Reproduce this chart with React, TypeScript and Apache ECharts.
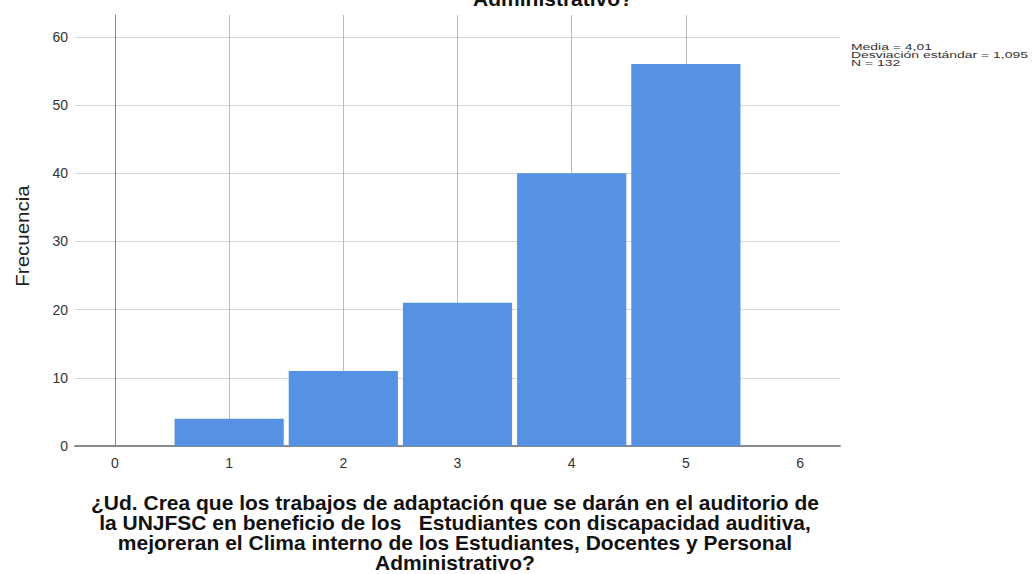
import React, { useEffect, useRef } from "react";
import * as echarts from "echarts";

const categories = [1, 2, 3, 4, 5];
const frequencies = [4, 11, 21, 40, 56];
const xTickValues = [0, 1, 2, 3, 4, 5, 6];
const yAxisTitle = "Frecuencia";
const statsLines = ["Media = 4,01", "Desviación estándar = 1,095", "N = 132"];
const xTitleLines = [
  "¿Ud. Crea que los trabajos de adaptación que se darán en el auditorio de",
  "la UNJFSC en beneficio de los   Estudiantes con discapacidad auditiva,",
  "mejoreran el Clima interno de los Estudiantes, Docentes y Personal",
  "Administrativo?",
];
const topTitleVisibleLine = "Administrativo?";

const FONT = "'Liberation Sans', Arial, sans-serif";
const BAR_COLOR = "#5592E3";

export default function App() {
  const ref = useRef<HTMLDivElement>(null);
  useEffect(() => {
    if (!ref.current) return;
    const chart = echarts.init(ref.current, null, { renderer: "svg" });
    const data = categories.map((c, i) => [c, frequencies[i]]);
    chart.setOption({
      animation: false,
      backgroundColor: "#ffffff",
      grid: { left: 75, right: 195, top: 15, bottom: 128, containLabel: false },
      xAxis: {
        type: "value",
        min: -0.35,
        max: 6.35,
        axisLine: { show: true, lineStyle: { color: "#8a8a8a", width: 2 } },
        axisTick: { show: false, customValues: xTickValues },
        axisLabel: {
          customValues: xTickValues,
          formatter: (v: number) => String(v),
          color: "#333",
          fontFamily: FONT,
          fontSize: 14,
          margin: 10,
        },
        splitLine: {
          show: true,
          showMinLine: false,
          showMaxLine: false,
          lineStyle: { color: "#bcbcbc", width: 1 },
        },
      },
      yAxis: {
        type: "value",
        min: 0,
        max: 63.2,
        interval: 10,
        axisLine: { show: true, lineStyle: { color: "#8a8a8a", width: 1 } },
        axisTick: { show: false },
        axisLabel: {
          color: "#333",
          fontFamily: FONT,
          fontSize: 14,
          margin: 7,
          showMaxLabel: false,
          formatter: (v: number) => (v % 10 === 0 ? String(v) : ""),
        },
        splitLine: {
          show: true,
          showMaxLine: false,
          lineStyle: { color: "#d6d6d6", width: 1 },
        },
      },
      series: [
        {
          type: "custom",
          data,
          renderItem: (params: any, api: any) => {
            const x = api.value(0);
            const y = api.value(1);
            const p0 = api.coord([x - 0.5, y]);
            const p1 = api.coord([x + 0.5, 0]);
            const inset = 2.5;
            return {
              type: "rect",
              shape: {
                x: p0[0] + inset,
                y: p0[1],
                width: p1[0] - p0[0] - inset * 2,
                height: p1[1] - p0[1],
              },
              style: { fill: BAR_COLOR },
            };
          },
        },
      ],
      graphic: [
        {
          type: "text",
          x: 553,
          y: -1,
          scaleX: 1.05,
          style: {
            text: topTitleVisibleLine,
            font: `bold 20px ${FONT}`,
            fill: "#111",
            align: "center",
            verticalAlign: "middle",
          },
        },
        {
          type: "text",
          x: 455,
          y: 493,
          scaleX: 1.05,
          style: {
            text: xTitleLines.join("\n"),
            font: `bold 20px ${FONT}`,
            lineHeight: 20,
            fill: "#111",
            align: "center",
            verticalAlign: "top",
          },
        },
        {
          type: "text",
          x: 22,
          y: 236,
          rotation: Math.PI / 2,
          scaleX: 1.08,
          style: {
            text: yAxisTitle,
            font: `19px ${FONT}`,
            fill: "#222",
            align: "center",
            verticalAlign: "middle",
          },
        },
        {
          type: "text",
          x: 851,
          y: 43,
          scaleX: 1.55,
          style: {
            text: statsLines.join("\n"),
            font: `9px ${FONT}`,
            lineHeight: 8,
            fill: "#333",
            align: "left",
            verticalAlign: "top",
          },
        },
      ],
    });
    return () => chart.dispose();
  }, []);
  return (
    <div
      ref={ref}
      style={{ position: "absolute", left: 0, top: 0, width: 1035, height: 574 }}
    />
  );
}
